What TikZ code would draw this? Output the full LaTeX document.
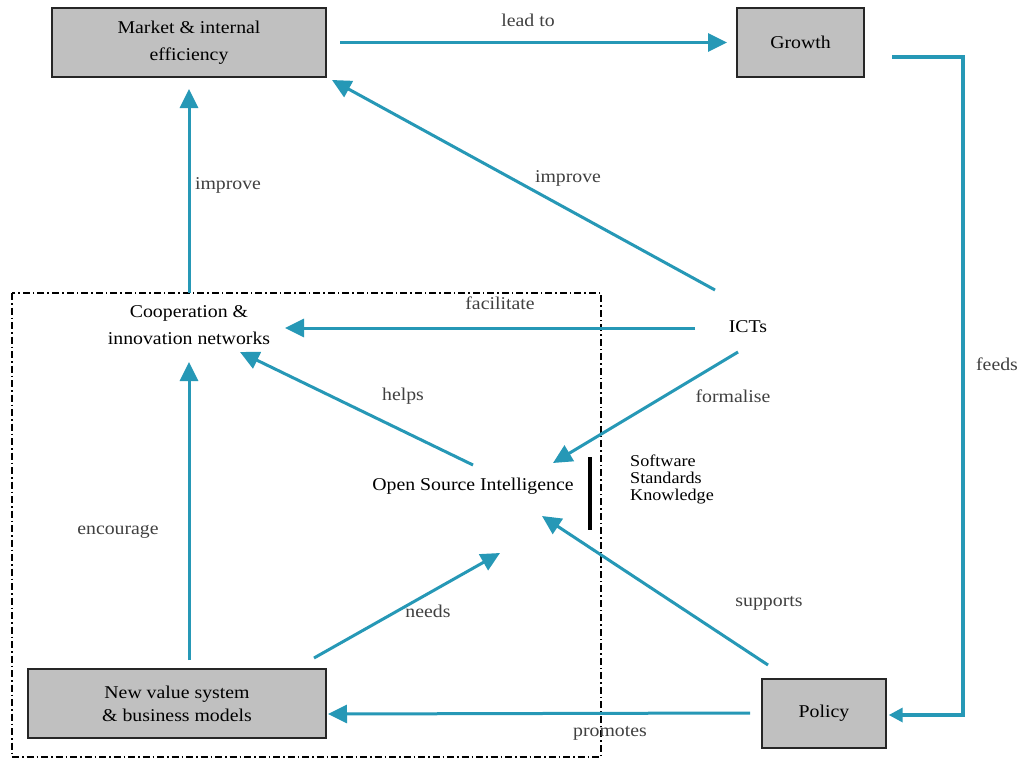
\documentclass[tikz,border=0pt]{standalone}
\usepackage{fontspec}
\setmainfont{Liberation Serif}[FakeStretch=1.1]
\usetikzlibrary{arrows.meta,calc}
\definecolor{teal}{RGB}{38,152,182}
\definecolor{boxgray}{RGB}{192,192,192}
\definecolor{lblgray}{RGB}{64,64,64}
\tikzset{
  box/.style={draw=black!85,line width=1.4pt,fill=boxgray,minimum height=69pt,align=center,inner sep=2pt,font=\fontsize{18}{27}\selectfont},
  txt/.style={align=center,inner sep=0pt,font=\fontsize{18}{27}\selectfont},
  lbl/.style={text=lblgray,inner sep=0pt,font=\fontsize{18}{22}\selectfont},
  arr/.style={draw=teal,line width=3pt,-{Triangle[length=19pt,width=18pt]}},
  frame/.style={draw=black,line width=1.2pt,dash pattern=on 7pt off 3pt on 1.5pt off 3pt}
}
\begin{document}
\begin{tikzpicture}[x=1pt,y=-1pt]
\useasboundingbox[fill=white] (0,0) rectangle (1017,760);
% dashed frame
\draw[frame] (12,293) rectangle (601,757);
% boxes
\node[box,minimum width=274pt] (market) at (189,42.5) {Market \& internal\\efficiency};
\node[box,minimum width=127pt] (growth) at (800.5,42.5) {Growth};
\node[box,minimum width=298pt,font=\fontsize{18}{23}\selectfont] (newval) at (177,703.5) {New value system\\\& business models};
\node[box,minimum width=124pt] (policy) at (824,713.5) {Policy};
% text nodes
\node[txt] (coop) at (189,325) {Cooperation \&\\innovation networks};
\node[txt] (icts) at (748,327) {ICTs};
\node[txt] (osi) at (473,486) {Open Source Intelligence};
\node[txt,align=left,anchor=north west,font=\fontsize{16.5}{17}\selectfont] (sw) at (630,455) {Software\\Standards\\Knowledge};
\draw[line width=3.5pt,black] ([shift={(-40,2)}]sw.north west) coordinate (bartop) -- ([shift={(-40,75)}]sw.north west) coordinate (barbot);
% connectors
\draw[arr] ([shift={(151,0)}]market.center) -- ([shift={(-73.5,0)}]growth.center);
\draw[draw=teal,line width=3.3pt,-{Triangle[length=14pt,width=14pt]}] ([shift={(91.5,14.5)}]growth.center) -- ++(71,0) |- ([shift={(2,1.5)}]policy.east);
\draw[arr] ([shift={(-33,-37)}]icts.center) -- ([shift={(143,37.5)}]market.center);
\draw[arr] ([shift={(0,-32)}]coop.center) -- ([shift={(0,46.5)}]market.center);
\draw[arr] ([shift={(-53,1)}]icts.center) -- ([shift={(96,3)}]coop.center);
\draw[arr] ([shift={(-10,25)}]icts.center) -- ([shift={(80,-23)}]osi.center);
\draw[arr] ([shift={(0,-21)}]osi.center) -- ([shift={(51,27)}]coop.center);
\draw[arr] ([shift={(12,-43.5)}]newval.center) -- ([shift={(0,37)}]coop.center);
\draw[arr] ([shift={(137,-45.5)}]newval.center) -- ([shift={(27,67)}]osi.center);
\draw[arr] ([shift={(-56,-48.5)}]policy.center) -- ([shift={(69,30)}]osi.center);
\draw[arr] ([shift={(-74,-0.5)}]policy.center) -- ([shift={(151,10.5)}]newval.center);
% labels
\node[lbl] (l1) at (528,20) {lead to};
\node[lbl] (l2) at (228,185) {improve};
\node[lbl] (l3) at (568,178) {improve};
\node[lbl] (l4) at (500,303) {facilitate};
\node[lbl] (l5) at (997,364) {feeds};
\node[lbl] (l6) at (733,396) {formalise};
\node[lbl] (l7) at (403,396) {helps};
\node[lbl] (l8) at (118,532) {encourage};
\node[lbl] (l9) at (428,611) {needs};
\node[lbl] (l10) at (769,603) {supports};
\node[lbl] (l11) at (610,733) {promotes};
\end{tikzpicture}
\end{document}
